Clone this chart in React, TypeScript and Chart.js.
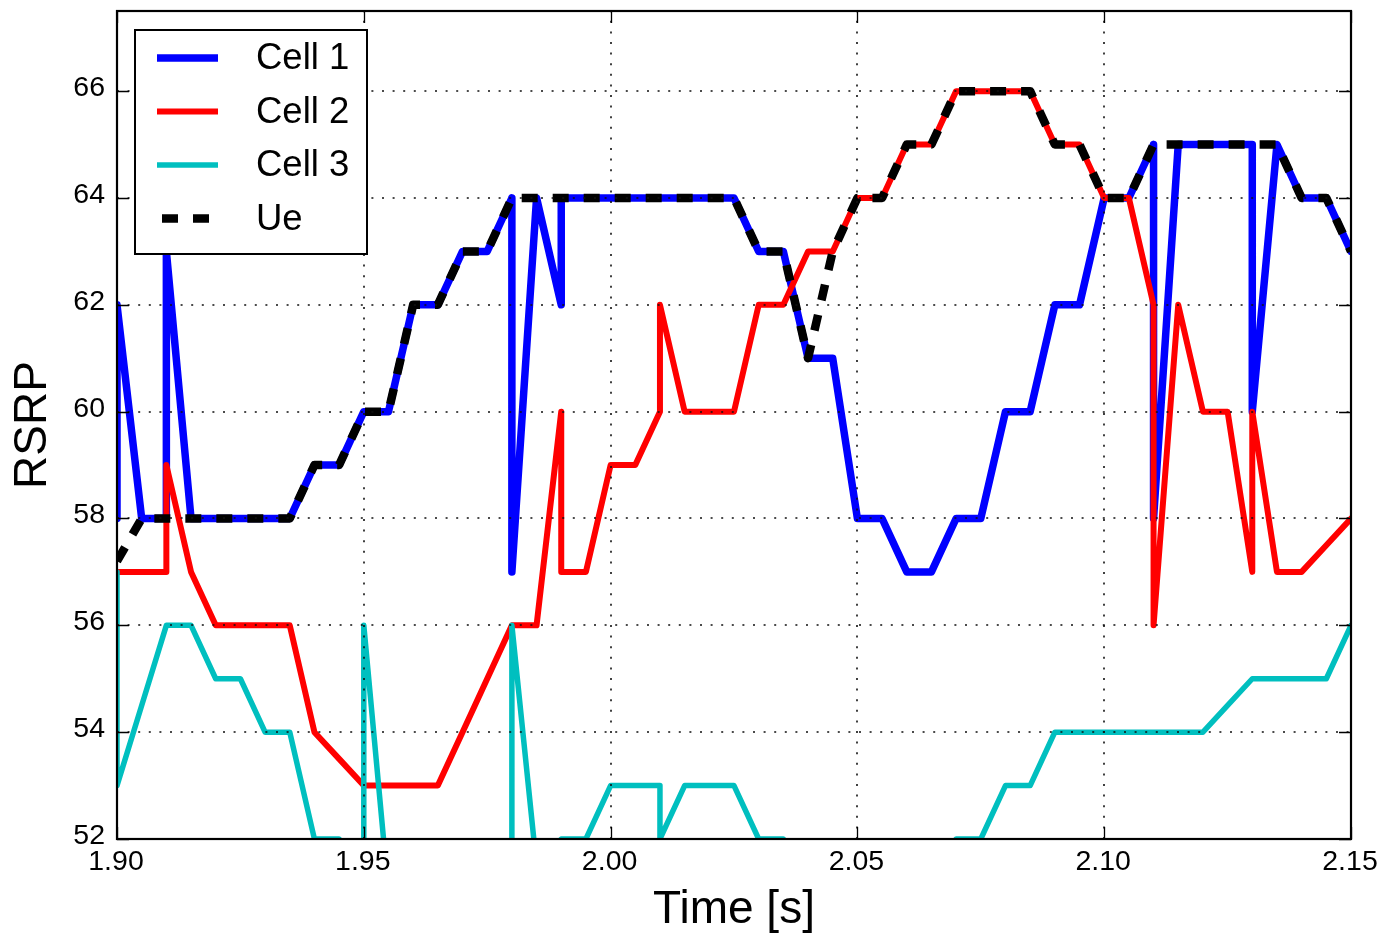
import React, { useEffect, useRef } from 'react';
import { Chart, registerables } from 'chart.js';

Chart.register(...registerables);

// Sample times [s]; repeated times mark instantaneous jumps at that sample
const timeS = [
  1.9, 1.9, 1.905, 1.91, 1.91, 1.915, 1.92, 1.925, 1.93, 1.935,
  1.94, 1.945, 1.95, 1.95, 1.955, 1.96, 1.965, 1.97, 1.975, 1.98,
  1.98, 1.985, 1.99, 1.99, 1.995, 2.0, 2.005, 2.01, 2.01, 2.015,
  2.02, 2.025, 2.03, 2.035, 2.04, 2.045, 2.05, 2.055, 2.06, 2.065,
  2.07, 2.075, 2.08, 2.085, 2.09, 2.095, 2.1, 2.105, 2.11, 2.11,
  2.115, 2.12, 2.125, 2.13, 2.13, 2.135, 2.14, 2.145, 2.15,
];

const cell1 = [
  58, 62, 58, 58, 63, 58, 58, 58, 58, 58,
  59, 59, 60, 60, 60, 62, 62, 63, 63, 64,
  57, 64, 62, 64, 64, 64, 64, 64, 64, 64,
  64, 64, 63, 63, 61, 61, 58, 58, 57, 57,
  58, 58, 60, 60, 62, 62, 64, 64, 65, 58,
  65, 65, 65, 65, 60, 65, 64, 64, 63,
];

const cell2 = [
  57, 57, 57, 57, 59, 57, 56, 56, 56, 56,
  54, 53.5, 53, 53, 53, 53, 53, 54, 55, 56,
  56, 56, 60, 57, 57, 59, 59, 60, 62, 60,
  60, 60, 62, 62, 63, 63, 64, 64, 65, 65,
  66, 66, 66, 66, 65, 65, 64, 64, 62, 56,
  62, 60, 60, 57, 60, 57, 57, 57.5, 58,
];

const cell3 = [
  57, 53, 54.5, 56, 56, 56, 55, 55, 54, 54,
  52, 52, 51, 56, 51, 51, 51, 51, 51, 51,
  56, 51.5, 52, 52, 52, 53, 53, 53, 52, 53,
  53, 53, 52, 52, 51, 51, 51, 51, 51, 51,
  52, 52, 53, 53, 54, 54, 54, 54, 54, 54,
  54, 54, 54.5, 55, 55, 55, 55, 55, 56,
];

const ue = [
  57.2, 57.2, 58, 58, 58, 58, 58, 58, 58, 58,
  59, 59, 60, 60, 60, 62, 62, 63, 63, 64,
  64, 64, 64, 64, 64, 64, 64, 64, 64, 64,
  64, 64, 63, 63, 61, 63, 64, 64, 65, 65,
  66, 66, 66, 66, 65, 65, 64, 64, 65, 65,
  65, 65, 65, 65, 65, 65, 64, 64, 63,
];

const seriesNames = ['Cell 1', 'Cell 2', 'Cell 3', 'Ue'];
const xTicks = [1.9, 1.95, 2.0, 2.05, 2.1, 2.15];
const yTicks = [52, 54, 56, 58, 60, 62, 64, 66];

const FONT = "'Liberation Sans', Arial, Helvetica, sans-serif";

const toPoints = (vals: number[]) => timeS.map((t, i) => ({ x: t, y: vals[i] }));

const framePlugin = {
  id: 'frame',
  afterDatasetsDraw(chart: any) {
    const { ctx, chartArea: a, scales } = chart;
    const xs = scales.x;
    const ys = scales.y;
    ctx.save();
    // dotted grid (drawn over the data, like the reference)
    ctx.strokeStyle = '#111';
    ctx.lineWidth = 1.6;
    ctx.setLineDash([2, 8.6]);
    xTicks.forEach((v) => {
      const px = Math.round(xs.getPixelForValue(v));
      if (px <= a.left + 1 || px >= a.right - 1) return;
      ctx.beginPath();
      ctx.moveTo(px, a.bottom);
      ctx.lineTo(px, a.top);
      ctx.stroke();
    });
    yTicks.forEach((v) => {
      const py = Math.round(ys.getPixelForValue(v));
      if (py <= a.top + 1 || py >= a.bottom - 1) return;
      ctx.beginPath();
      ctx.moveTo(a.left, py);
      ctx.lineTo(a.right, py);
      ctx.stroke();
    });
    ctx.setLineDash([]);
    // inward tick marks on all four sides
    const tl = 12;
    ctx.strokeStyle = '#000';
    ctx.lineWidth = 1.3;
    xTicks.forEach((v) => {
      const px = Math.round(xs.getPixelForValue(v)) + 0.5;
      ctx.beginPath();
      ctx.moveTo(px, a.bottom);
      ctx.lineTo(px, a.bottom - tl);
      ctx.moveTo(px, a.top);
      ctx.lineTo(px, a.top + tl);
      ctx.stroke();
    });
    yTicks.forEach((v) => {
      const py = Math.round(ys.getPixelForValue(v)) + 0.5;
      ctx.beginPath();
      ctx.moveTo(a.left, py);
      ctx.lineTo(a.left + tl, py);
      ctx.moveTo(a.right, py);
      ctx.lineTo(a.right - tl, py);
      ctx.stroke();
    });
    // axes frame
    ctx.lineWidth = 2.2;
    ctx.strokeRect(a.left, a.top, a.right - a.left, a.bottom - a.top);
    ctx.restore();
  },
  afterDraw(chart: any) {
    const { ctx, chartArea: a } = chart;
    const bx = a.left + 18;
    const by = a.top + 19;
    const bw = 232;
    const bh = 224;
    ctx.save();
    ctx.fillStyle = '#fff';
    ctx.fillRect(bx, by, bw, bh);
    ctx.strokeStyle = '#000';
    ctx.lineWidth = 2;
    ctx.strokeRect(bx, by, bw, bh);
    const rowH = 53.5;
    chart.data.datasets.forEach((ds: any, i: number) => {
      const yy = by + 28 + i * rowH;
      ctx.beginPath();
      ctx.strokeStyle = ds.borderColor;
      ctx.lineWidth = ds.borderWidth;
      if (ds.borderDash && ds.borderDash.length) {
        ctx.setLineDash(ds.borderDash);
        ctx.lineCap = 'butt';
        ctx.moveTo(bx + 27, yy);
        ctx.lineTo(bx + 84, yy);
      } else {
        ctx.setLineDash([]);
        ctx.lineCap = 'butt';
        ctx.moveTo(bx + 22, yy);
        ctx.lineTo(bx + 83, yy);
      }
      ctx.stroke();
      ctx.setLineDash([]);
      ctx.fillStyle = '#000';
      ctx.font = `36.5px ${FONT}`;
      ctx.textAlign = 'left';
      ctx.textBaseline = 'middle';
      ctx.fillText(ds.label, bx + 121, yy + 1);
    });
    ctx.restore();
  },
};

export default function App() {
  const canvasRef = useRef<HTMLCanvasElement | null>(null);

  useEffect(() => {
    document.body.style.margin = '0';
    const canvas = canvasRef.current;
    if (!canvas) return;
    Chart.defaults.font.family = FONT;
    Chart.defaults.color = '#000';

    const mk = (i: number, vals: number[], color: string, width: number, order: number, dash?: number[]) => ({
      label: seriesNames[i],
      data: toPoints(vals),
      borderColor: color,
      backgroundColor: color,
      borderWidth: width,
      borderDash: dash || [],
      borderCapStyle: dash ? 'butt' : 'round',
      borderJoinStyle: 'round',
      pointRadius: 0,
      pointHoverRadius: 0,
      tension: 0,
      fill: false,
      clip: 0,
      order,
    });

    const chart = new Chart(canvas, {
      type: 'line',
      data: {
        datasets: [
          mk(0, cell1, '#0000ff', 7.5, 3),
          mk(1, cell2, '#ff0000', 6, 2),
          mk(2, cell3, '#00bfbf', 5.5, 1),
          mk(3, ue, '#000000', 8.5, 0, [16, 15]),
        ] as any,
      },
      options: {
        animation: false,
        responsive: false,
        devicePixelRatio: 1,
        events: [],
        layout: { padding: { top: 11, right: 34, left: 0, bottom: 0 } },
        plugins: {
          legend: { display: false },
          tooltip: { enabled: false },
        },
        scales: {
          x: {
            type: 'linear',
            min: 1.9,
            max: 2.15,
            afterBuildTicks: (s: any) => {
              s.ticks = xTicks.map((v) => ({ value: v }));
            },
            afterFit: (s: any) => {
              s.height = 96;
              s.paddingLeft = 0;
              s.paddingRight = 0;
              s.paddingTop = 0;
              s.paddingBottom = 0;
            },
            grid: { display: false, drawTicks: false },
            border: { display: false },
            ticks: {
              autoSkip: false,
              maxRotation: 0,
              minRotation: 0,
              padding: 9,
              labelOffset: -1,
              color: '#000',
              font: { family: FONT, size: 28.5, lineHeight: 1 },
              callback: (v: any) => Number(v).toFixed(2),
            },
            title: {
              display: true,
              text: 'Time [s]',
              color: '#000',
              font: { family: FONT, size: 46, lineHeight: 1 },
              padding: { top: 0, bottom: 2 },
            },
          },
          y: {
            type: 'linear',
            min: 52,
            max: 67.5,
            afterBuildTicks: (s: any) => {
              s.ticks = yTicks.map((v) => ({ value: v }));
            },
            afterFit: (s: any) => {
              s.width = 117;
              s.paddingLeft = 0;
              s.paddingRight = 0;
              s.paddingTop = 0;
              s.paddingBottom = 0;
            },
            grid: { display: false, drawTicks: false },
            border: { display: false },
            ticks: {
              autoSkip: false,
              padding: 12,
              labelOffset: -3,
              color: '#000',
              font: { family: FONT, size: 28.5, lineHeight: 1 },
              callback: (v: any) => String(v),
            },
            title: {
              display: true,
              text: 'RSRP',
              color: '#000',
              font: { family: FONT, size: 46, lineHeight: 1 },
              padding: { top: 10.5, bottom: 0 },
            },
          },
        },
      } as any,
      plugins: [framePlugin],
    });

    return () => {
      chart.destroy();
    };
  }, []);

  return (
    <div style={{ position: 'absolute', left: 0, top: 0, width: 1385, height: 935, background: '#fff' }}>
      <canvas ref={canvasRef} width={1385} height={935} style={{ display: 'block', width: 1385, height: 935 }} />
    </div>
  );
}
